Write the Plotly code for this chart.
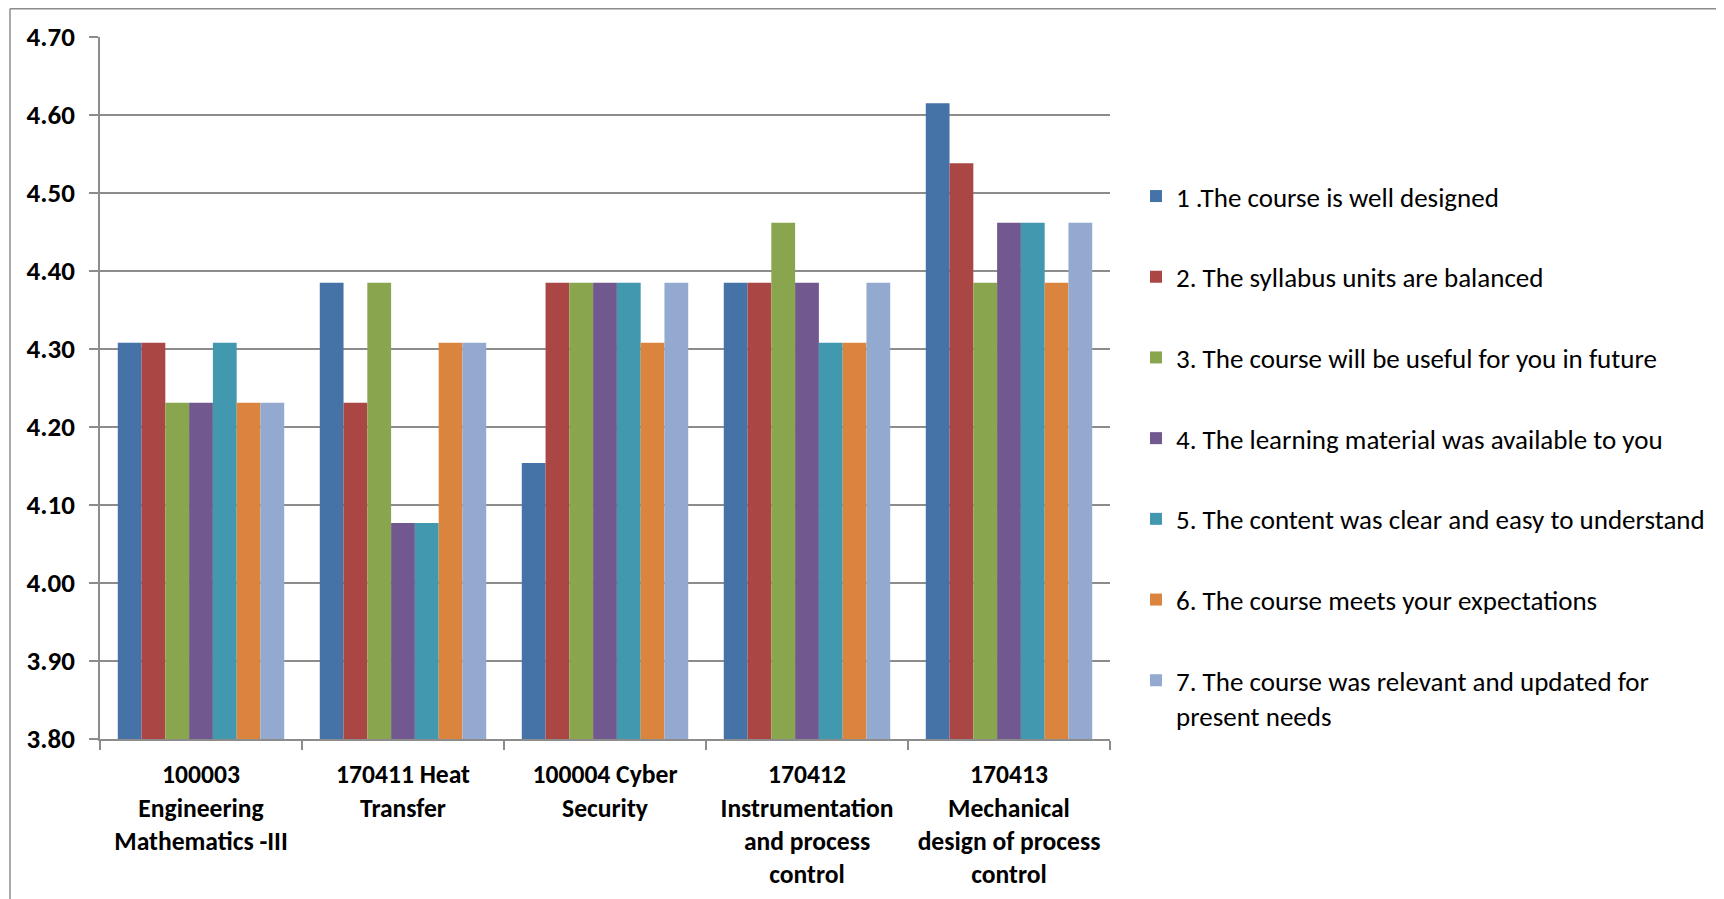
import plotly.graph_objects as go

categories = [
    "100003<br>Engineering<br>Mathematics -III",
    "170411 Heat<br>Transfer",
    "100004 Cyber<br>Security",
    "170412<br>Instrumentation<br>and process<br>control",
    "170413<br>Mechanical<br>design of process<br>control",
]

series_names = [
    "1 .The course is well designed",
    "2. The syllabus units are balanced",
    "3. The course will be useful for you in future",
    "4. The learning material was available to you",
    "5. The content was clear and easy to understand",
    "6. The course meets your expectations",
    "7. The course was relevant and updated for<br>present needs",
]

q1 = [4.308, 4.385, 4.154, 4.385, 4.615]
q2 = [4.308, 4.231, 4.385, 4.385, 4.538]
q3 = [4.231, 4.385, 4.385, 4.462, 4.385]
q4 = [4.231, 4.077, 4.385, 4.385, 4.462]
q5 = [4.308, 4.077, 4.385, 4.308, 4.462]
q6 = [4.231, 4.308, 4.308, 4.308, 4.385]
q7 = [4.231, 4.308, 4.385, 4.385, 4.462]

series_values = [q1, q2, q3, q4, q5, q6, q7]
colors = ["#4572A7", "#AA4643", "#89A54E", "#71588F", "#4198AF", "#DB843D", "#93A9CF"]

tick_vals = [3.8, 3.9, 4.0, 4.1, 4.2, 4.3, 4.4, 4.5, 4.6, 4.7]

FONT = "Carlito, Lato, sans-serif"
GRID = "#8c8c8c"

fig = go.Figure()
for i, (name, vals) in enumerate(zip(series_names, series_values)):
    fig.add_trace(go.Bar(
        x=categories, y=vals, name=name,
        marker=dict(color=colors[i], line=dict(width=0)),
        legendgroup=f"g{i}",
    ))

# page offset from the default body margin
OFF = 8
W, H = 1724 - OFF, 899 - OFF
L, R, T, B = 100 - OFF, 1110 - OFF, 37 - OFF, 739 - OFF
pw, ph = R - L, B - T

def px_x(p):
    return (p - L) / pw

def px_y(p):
    return (B - p) / ph

fig.update_layout(
    width=W, height=H,
    margin=dict(l=L, r=W - R, t=T, b=H - B, pad=0, autoexpand=False),
    paper_bgcolor="white", plot_bgcolor="white",
    barmode="group", bargap=0.176, bargroupgap=0,
    font=dict(family=FONT, color="black"),
    legend=dict(
        x=px_x(1136 - OFF), y=px_y(164), xanchor="left", yanchor="top",
        font=dict(family=FONT, size=27, color="black"),
        traceorder="grouped", tracegroupgap=42.6, valign="top",
        bgcolor="rgba(0,0,0,0)",
    ),
    xaxis=dict(
        type="category", tickson="boundaries", ticks="outside", ticklen=9,
        tickcolor=GRID, tickwidth=1.5, automargin=False,
        showline=True, linecolor=GRID, linewidth=1.5, showgrid=False,
        tickfont=dict(family=FONT, size=25.6, color="black", weight="bold"),
        ticklabelstandoff=12,
    ),
    yaxis=dict(
        range=[3.8, 4.7], tickvals=tick_vals, tickformat=".2f",
        ticks="outside", ticklen=9, tickcolor=GRID, tickwidth=1.5, automargin=False,
        showline=True, linecolor=GRID, linewidth=1.5,
        showgrid=True, gridcolor=GRID, gridwidth=1.5, zeroline=False,
        tickfont=dict(family=FONT, size=27, color="black", weight="bold"),
        ticklabelstandoff=9,
    ),
    shapes=[
        dict(type="line", xref="paper", yref="paper",
             x0=px_x(2), x1=px_x(W + 20), y0=px_y(0.8), y1=px_y(0.8),
             line=dict(color=GRID, width=1.5)),
        dict(type="line", xref="paper", yref="paper",
             x0=px_x(2), x1=px_x(2), y0=px_y(0.8), y1=px_y(H + 20),
             line=dict(color=GRID, width=1.5)),
    ],
)

fig.write_html("out.html")
